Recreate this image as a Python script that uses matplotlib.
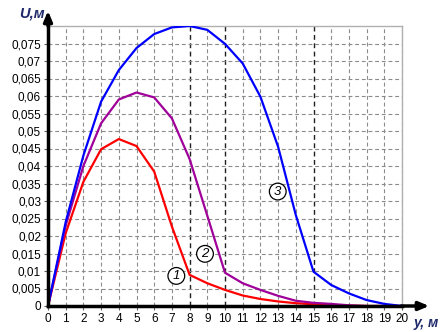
import matplotlib
matplotlib.use("Agg")
import matplotlib.pyplot as plt

plt.rcParams["font.family"] = ["Liberation Sans", "DejaVu Sans"]

y_m = list(range(0, 21))
# curve 1 (red), 2 (purple), 3 (blue): displacement U, m
u1 = [0, 0.0208, 0.0355, 0.0448, 0.0477, 0.0457, 0.0384, 0.0227, 0.0089, 0.0065,
      0.0046, 0.0030, 0.0020, 0.0013, 0.0008, 0.0005, 0.0003, 0.0001, 0, 0, 0]
u2 = [0, 0.0230, 0.0400, 0.0522, 0.0590, 0.0610, 0.0596, 0.0536, 0.0420, 0.0258,
      0.0095, 0.0065, 0.0046, 0.0029, 0.0015, 0.0009, 0.0006, 0.0002, 0, 0, 0]
u3 = [0, 0.0240, 0.0430, 0.0584, 0.0674, 0.0737, 0.0777, 0.0796, 0.0800, 0.0789,
      0.0749, 0.0693, 0.0598, 0.0455, 0.0260, 0.0098, 0.0060, 0.0036, 0.0017, 0.0006, 0]

xticks = list(range(0, 21))
yticks = [i * 0.005 for i in range(16)]
ylabels = ["0"] + [f"{v:g}".replace(".", ",") for v in yticks[1:]]

fig = plt.figure(figsize=(4.4, 3.32), dpi=100)
ax = fig.add_axes([48 / 440, 1 - 306 / 332, 354 / 440, 280 / 332])
ax.set_xlim(0, 20)
ax.set_ylim(0, 0.08)

for x in xticks[1:]:
    dark = x in (8, 10, 15)
    ax.axvline(x, color="#202020" if dark else "#8c8c8c", lw=1.0 if dark else 0.8,
               ls=(0, (3.5, 2.5)), zorder=1)
for v in yticks[1:]:
    ax.axhline(v, color="#8c8c8c", lw=0.8, ls=(0, (3.5, 2.5)), zorder=1)

ax.plot(y_m, u1, color="#ff0000", lw=1.6, zorder=3)
ax.plot(y_m, u2, color="#a0009a", lw=1.6, zorder=3)
ax.plot(y_m, u3, color="#0000ff", lw=1.6, zorder=4)

for s in ("top", "right"):
    ax.spines[s].set_color("#b0b0b0")
    ax.spines[s].set_linewidth(1.0)
for s in ("left", "bottom"):
    ax.spines[s].set_color("black")
    ax.spines[s].set_linewidth(2.5)
    ax.spines[s].set_zorder(5)

ax.set_xticks(xticks)
ax.set_xticklabels([str(x) for x in xticks], fontsize=8.5)
ax.set_yticks(yticks)
ax.set_yticklabels(ylabels, fontsize=8.5)
ax.tick_params(length=3, width=0.8, color="#606060", pad=2)

# arrows extending the axes
ax.annotate("", xy=(1 + 30 / 354, 0), xytext=(0.99, 0), xycoords="axes fraction",
            arrowprops=dict(arrowstyle="-|>,head_length=0.6,head_width=0.25",
                            color="black", lw=2.5), annotation_clip=False)
ax.annotate("", xy=(0, 1 + 18 / 280), xytext=(0, 0.99), xycoords="axes fraction",
            arrowprops=dict(arrowstyle="-|>,head_length=0.6,head_width=0.25",
                            color="black", lw=2.5), annotation_clip=False)

ax.text(-0.01, 1 + 13 / 280, "U,м", transform=ax.transAxes, ha="right", va="center",
        fontsize=10.5, fontweight="bold", style="italic", color="#1f2a6b")
ax.text(1 + 12 / 354, -17 / 280, "y, м", transform=ax.transAxes, ha="left", va="center",
        fontsize=10, fontweight="bold", style="italic", color="#1f2a6b")

circ = dict(boxstyle="circle,pad=0.18", fc="white", ec="black", lw=0.9)
for txt, x, y in (("1", 7.25, 0.0086), ("2", 8.87, 0.0149), ("3", 12.98, 0.0327)):
    ax.text(x, y, txt, ha="center", va="center", fontsize=9.5, style="italic",
            bbox=circ, zorder=6)

fig.savefig("out.png", dpi=100)
